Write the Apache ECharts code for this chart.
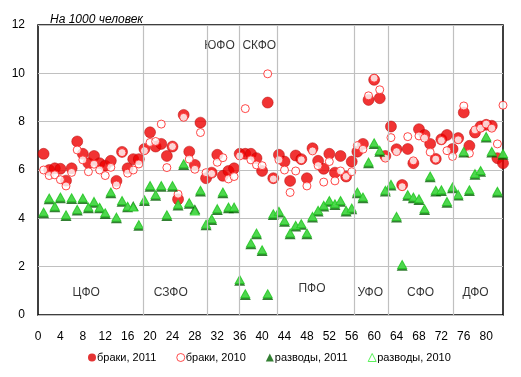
<!DOCTYPE html>
<html>
<head>
<meta charset="utf-8">
<script src="https://cdn.jsdelivr.net/npm/echarts@6/dist/echarts.min.js"></script>
<style>
  html, body { margin: 0; padding: 0; background: #fff; }
  #chart { width: 521px; height: 377px; }
</style>
</head>
<body>
<div id="chart"></div>
<script>
// коэффициенты на 1000 человек, регионы 1..83
const marriages2011 = [6.67, 6.0, 6.07, 6.05, 5.56, 6.07, 7.18, 6.67, 6.28, 6.58,
  6.28, 6.18, 6.38, 5.55, 6.75, 6.07, 6.45, 6.45, 6.87, 7.56,
  6.97, 7.08, 6.58, 6.97, 4.79, 8.28, 6.76, 6.21, 7.96, 5.66,
  5.89, 6.63, 5.76, 5.96, 6.07, 6.67, 6.67, 6.67, 6.49, 5.96,
  8.79, 5.66, 6.63, 6.35, 5.55, 6.6, 6.45, 5.66, 6.9, 6.38,
  6.05, 6.67, 5.89, 6.58, 5.73, 6.35, 6.76, 7.08, 8.9, 9.73,
  8.97, 6.58, 7.8, 6.86, 5.38, 6.87, 6.28, 7.69, 7.45, 7.08,
  6.46, 7.27, 7.45, 6.87, 7.32, 8.38, 7.0, 7.55, 7.8, 7.87,
  7.83, 6.49, 6.28];
const marriages2010 = [6.0, 5.77, 5.8, 5.6, 5.34, 5.9, 6.83, 6.42, 5.93, 6.24,
  6.0, 5.77, 6.11, 5.38, 6.72, 5.87, 6.0, 6.25, 6.8, 7.14,
  7.18, 7.9, 6.1, 6.97, 5.0, 8.18, 6.45, 6.03, 7.55, 5.89,
  5.85, 6.32, 6.51, 5.63, 5.73, 6.58, 8.54, 6.42, 6.21, 6.18,
  9.98, 5.63, 6.42, 6.0, 5.07, 5.96, 6.42, 5.34, 6.79, 6.18,
  5.5, 6.35, 5.55, 5.96, 5.73, 5.93, 7.01, 6.86, 9.07, 9.8,
  9.32, 6.49, 7.34, 6.76, 5.31, 7.38, 6.38, 7.41, 7.32, 6.74,
  6.45, 7.22, 6.8, 6.56, 7.25, 8.65, 6.69, 7.66, 7.73, 7.9,
  7.73, 7.08, 8.68];
const divorces2011 = [4.21, 4.79, 4.46, 4.83, 4.10, 4.80, 4.32, 4.80, 4.42, 4.65,
  4.42, 4.18, 5.04, 4.0, 4.69, 4.46, 4.51, 3.69, 4.72, 5.31,
  4.93, 5.31, 4.10, 5.31, 4.53, 6.21, 4.60, 4.38, 5.11, 3.71,
  3.93, 4.35, 5.04, 4.42, 4.42, 1.42, 0.83, 2.93, 3.34, 2.65,
  0.83, 4.14, 4.24, 3.86, 3.34, 3.66, 3.73, 3.34, 4.03, 4.28,
  4.49, 4.69, 4.55, 4.69, 4.28, 4.38, 5.04, 4.83, 6.28, 7.08,
  6.76, 5.11, 5.36, 4.03, 2.04, 4.93, 4.83, 4.76, 4.35, 5.7,
  5.11, 5.13, 4.65, 5.25, 4.94, 6.72, 5.13, 5.8, 5.93, 7.34,
  6.72, 5.07, 6.63];
const divorces2010 = [4.26, 4.84, 4.5, 4.88, 4.15, 4.85, 4.37, 4.84, 4.47, 4.7,
  4.46, 4.23, 5.09, 4.05, 4.74, 4.5, 4.47, 3.74, 4.77, 5.36,
  4.98, 5.36, 4.15, 5.36, 4.58, 6.26, 4.65, 4.3, 5.16, 3.76,
  3.98, 4.4, 5.09, 4.47, 4.47, 1.47, 0.88, 2.98, 3.39, 2.7,
  0.88, 4.19, 4.29, 3.91, 3.39, 3.71, 3.78, 3.39, 4.08, 4.33,
  4.54, 4.74, 4.6, 4.74, 4.33, 4.43, 5.09, 4.88, 6.33, 7.13,
  6.81, 5.16, 5.41, 4.08, 2.09, 4.98, 4.88, 4.81, 4.4, 5.75,
  5.16, 5.18, 4.7, 5.3, 4.99, 6.77, 5.18, 5.85, 5.98, 7.39,
  6.77, 5.12, 6.68];

// границы федеральных округов и их подписи
const districtBounds = [18.7, 30.2, 36.0, 42.7, 56.4, 62.5, 74.1];
const districtNames = ['ЦФО', 'СЗФО', 'ЮФО', 'СКФО', 'ПФО', 'УФО', 'СФО', 'ДФО'];
const districtLabelX = [8.6, 23.7, 32.4, 39.5, 48.9, 59.3, 68.3, 78.1];
const districtLabelY = [0.92, 0.92, 11.15, 11.15, 1.1, 0.92, 0.92, 0.92];

const seriesNames = ['браки, 2011', 'браки, 2010', 'разводы, 2011', 'разводы, 2010'];

const font = 'Liberation Sans, Arial, sans-serif';

function pairs(arr) {
  return arr.map((v, i) => [i + 1, v]);
}

const chart = echarts.init(document.getElementById('chart'));
const option = {
  animation: false,
  textStyle: { fontFamily: font },
  title: {
    text: 'На 1000 человек',
    left: 45, top: 9,
    textStyle: { fontSize: 12, fontStyle: 'italic', fontWeight: 'normal', color: '#000', fontFamily: font }
  },
  grid: {
    left: 38, right: 18, top: 25, bottom: 62,
    show: true, borderColor: '#000', borderWidth: 1.5
  },
  legend: {
    bottom: 9, left: 83,
    itemWidth: 8, itemHeight: 8, itemGap: 20,
    textStyle: { fontSize: 11, color: '#000', fontFamily: font, padding: [0, 0, 0, -4] },
    data: [
      { name: seriesNames[0], icon: 'circle', itemStyle: { color: '#dd0000', borderWidth: 0 } },
      { name: seriesNames[1], icon: 'circle', itemStyle: { color: '#fff', borderColor: '#ff2020', borderWidth: 1 } },
      { name: seriesNames[2], icon: 'triangle', itemStyle: { color: '#006000', borderWidth: 0 } },
      { name: seriesNames[3], icon: 'triangle', itemStyle: { color: '#fff', borderColor: '#33ee33', borderWidth: 1 } }
    ]
  },
  xAxis: {
    type: 'value', min: 0, max: 83, interval: 4,
    axisLine: { show: false },
    axisTick: { show: false },
    splitLine: { show: false },
    axisLabel: {
      color: '#000', fontSize: 12, margin: 16, fontFamily: font,
      formatter: v => (v % 4 === 0 ? String(v) : '')
    }
  },
  yAxis: {
    type: 'value', min: 0, max: 12, interval: 2,
    axisLine: { show: false },
    axisTick: { show: false },
    splitLine: { lineStyle: { color: '#c0c0c0', width: 1 } },
    axisLabel: { color: '#000', fontSize: 12, margin: 13, fontFamily: font }
  },
  series: [
    {
      name: seriesNames[0], type: 'scatter', symbol: 'circle', symbolSize: 11,
      itemStyle: { color: '#ee0000', borderColor: '#b00000', borderWidth: 0.6 },
      data: pairs(marriages2011),
      markLine: {
        silent: true, symbol: ['none', 'none'], label: { show: false },
        lineStyle: { color: '#c0c0c0', type: 'solid', width: 1.2 },
        data: districtBounds.map(x => ({ xAxis: x }))
      }
    },
    {
      name: seriesNames[1], type: 'scatter', symbol: 'circle', symbolSize: 8,
      itemStyle: { color: '#fff', borderColor: '#ff1a1a', borderWidth: 1 },
      data: pairs(marriages2010)
    },
    {
      name: seriesNames[2], type: 'scatter', symbol: 'triangle', symbolSize: [11, 10],
      itemStyle: { color: '#006000' },
      data: pairs(divorces2011)
    },
    {
      name: seriesNames[3], type: 'scatter', symbol: 'triangle', symbolSize: [9, 8],
      itemStyle: { color: '#55ee55', borderColor: '#22c822', borderWidth: 1 },
      data: pairs(divorces2010)
    },
    {
      name: 'округа', type: 'scatter', symbolSize: 0, silent: true,
      label: {
        show: true, position: 'inside', color: '#000', fontSize: 12, fontFamily: font,
        formatter: p => p.data[2]
      },
      data: districtNames.map((n, i) => [districtLabelX[i], districtLabelY[i], n])
    }
  ]
};
chart.setOption(option);
</script>
</body>
</html>
